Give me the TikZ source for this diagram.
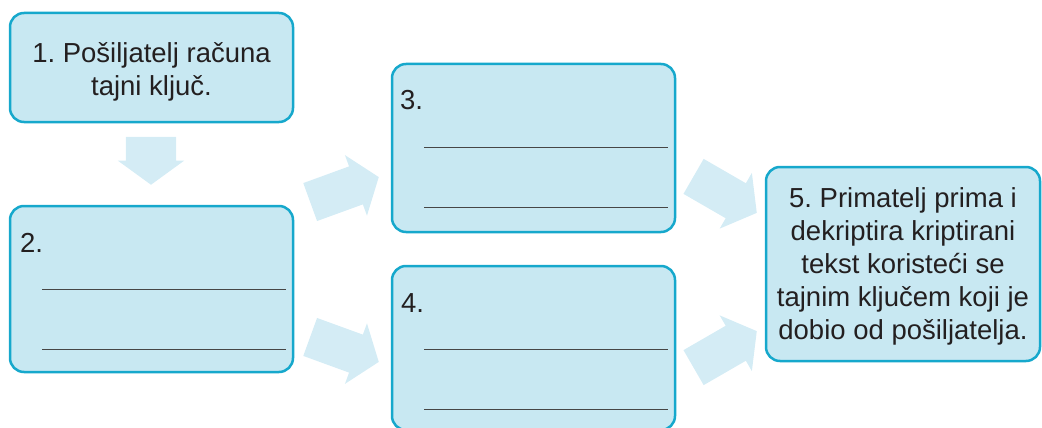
\documentclass[tikz,border=0pt]{standalone}
\usepackage{fontspec}
\setmainfont{Liberation Sans}
\usetikzlibrary{shapes.arrows,calc}
\frenchspacing
\definecolor{boxfill}{RGB}{200,232,242}
\definecolor{boxline}{RGB}{22,168,204}
\definecolor{arrowfill}{RGB}{212,236,245}
\definecolor{txt}{RGB}{35,31,32}
\tikzset{
  card/.style      ={rectangle,rounded corners=14pt,draw=boxline,line width=2.5pt,fill=boxfill,
                     inner sep=0pt,outer sep=0pt},
  cardtext/.style  ={inner sep=0pt,text=txt,align=center,font=\fontsize{27.5}{33}\selectfont},
  blockarrow/.style={single arrow,fill=arrowfill,draw=none,inner xsep=0pt,inner ysep=20pt,anchor=tip,
                     minimum width=64pt,minimum height=73pt,single arrow head extend=12pt,
                     single arrow tip angle=106},
  num/.style       ={anchor=base west,inner sep=0pt,text=txt,font=\fontsize{27.5}{33}\selectfont},
  blank/.style     ={line width=1pt,draw=gray!55!black},
}
\begin{document}
\begin{tikzpicture}[x=1pt,y=-1pt]
  \useasboundingbox (0,0) rectangle (1042,428);
  % steps
  \node[card,minimum width=283pt,minimum height=109pt] (b1) at (151.5,67.5) {};
  \node[card,minimum width=283pt,minimum height=166pt] (b2) at (151.5,289) {};
  \node[card,minimum width=283pt,minimum height=168pt] (b3) at (533.5,148) {};
  \node[card,minimum width=283pt,minimum height=164pt] (b4) at (533.5,348) {};
  \node[card,minimum width=274pt,minimum height=194pt] (b5) at (903,264) {};
  \node[cardtext] (t1) at ($(b1.center)+(0,4)$) {1. Pošiljatelj računa\\tajni ključ.};
  \node[cardtext] (t5) at ($(b5.center)+(0,2)$)
    {5. Primatelj prima i\\dekriptira kriptirani\\tekst koristeći se\\tajnim ključem koji je\\dobio od pošiljatelja.};
  \node[num] (n2) at ($(b2.north west)+(10,46)$) {2.};
  \node[num] (n3) at ($(b3.north west)+(8,46)$) {3.};
  \node[num] (n4) at ($(b4.north west)+(9,46)$) {4.};
  % lines to fill in
  \foreach \b in {b2,b3,b4}{
    \draw[blank] ($(\b.north west)+(32,83)$) -- ++(244,0);
    \draw[blank] ($(\b.north west)+(32,143)$) -- ++(244,0);
  }
  % arrows
  \node[blockarrow,rotate=-90,inner ysep=25pt,minimum width=66pt,minimum height=48pt,
        single arrow head extend=8pt,single arrow tip angle=108] (a12) at (151,185) {};
  \node[blockarrow,rotate=20]  (a23) at (379,177) {};
  \node[blockarrow,rotate=-20] (a24) at (379,362) {};
  \node[blockarrow,rotate=-30] (a35) at (757,213) {};
  \node[blockarrow,rotate=30]  (a45) at (757,331) {};
\end{tikzpicture}
\end{document}
